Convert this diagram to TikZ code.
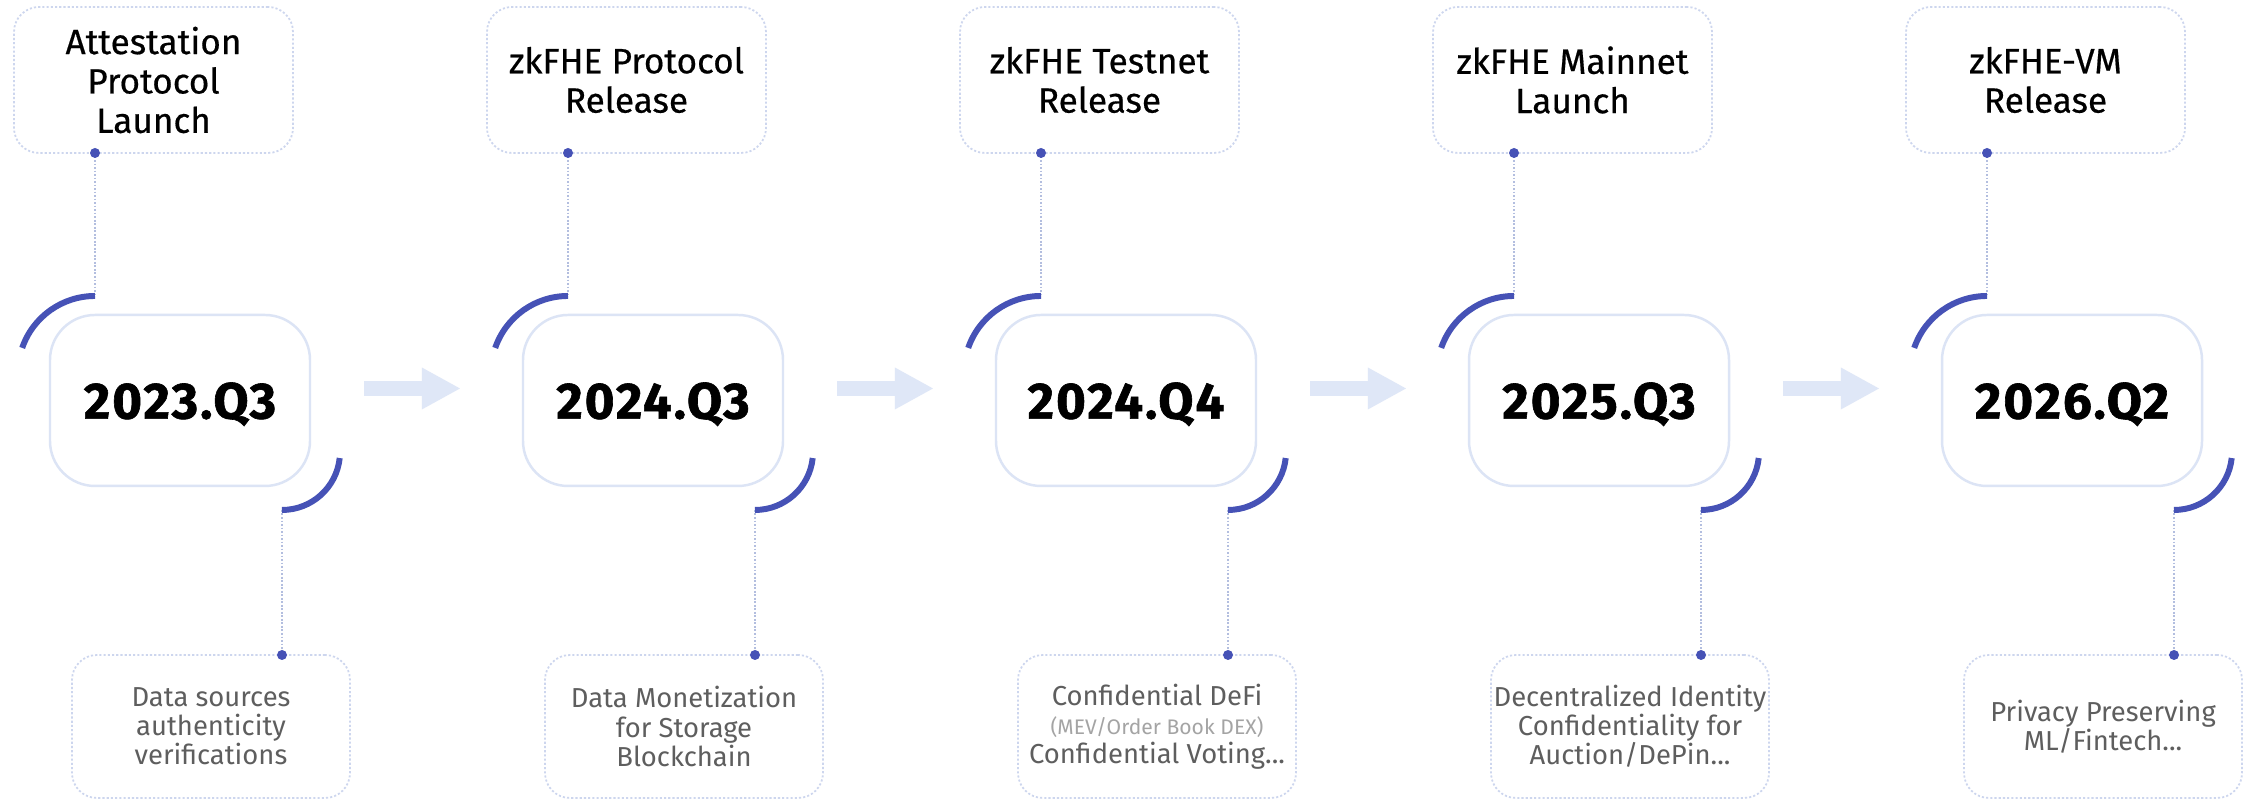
\documentclass[tikz,border=0pt]{standalone}
\usepackage{fontspec}
\setmainfont{Fira Sans}
\newfontfamily\titlefont{Fira Sans}[FakeBold=0.5]
\newfontfamily\yearfont{Fira Sans}[LetterSpace=4,BoldFeatures={FakeBold=1.2}]
\usetikzlibrary{arrows.meta}
\usetikzlibrary{positioning}

\definecolor{boxline}{HTML}{CDD6EE}
\definecolor{qline}{HTML}{DCE4F5}
\definecolor{pinblue}{HTML}{B3BEDF}
\definecolor{hookblue}{HTML}{4652B6}
\definecolor{flowblue}{HTML}{DFE7F7}
\definecolor{notegray}{HTML}{5E5E5E}
\definecolor{mevgray}{HTML}{A4A4A4}

\tikzset{
titlebox/.style={draw=boxline,dash pattern=on 0.6pt off 0.6pt,line width=0.5pt,rounded corners=0.25cm,minimum width=2.79cm,minimum height=1.46cm,inner sep=0pt,align=center,font=\titlefont\fontsize{10}{11.2}\selectfont},
quarterbox/.style={draw=qline,line width=0.7pt,rounded corners=0.45cm,minimum width=2.6cm,minimum height=1.71cm,inner sep=0pt,text depth=0pt,font=\yearfont\bfseries\fontsize{14.5}{16}\selectfont},
notebox/.style={draw=boxline,dash pattern=on 0.6pt off 0.6pt,line width=0.5pt,rounded corners=0.25cm,minimum width=2.78cm,minimum height=1.43cm,inner sep=0pt,align=center,text=notegray,font=\fontsize{7.8}{8.3}\selectfont},
pinline/.style={draw=pinblue,dash pattern=on 0.5pt off 0.5pt,line width=0.5pt},
hook/.style={draw=hookblue,line width=1.7pt},
pin/.style={fill=hookblue},
flow/.style={draw=flowblue,line width=0.15cm,-{Triangle[width=0.39cm,length=0.39cm]}}
}

\begin{document}
\begin{tikzpicture}
\useasboundingbox[fill=white] (0,0) rectangle (22.49,8.01);

% boxes
\node[titlebox] (t1) at (1.535,7.21) {Attestation\\Protocol\\Launch};
\node[titlebox] (t2) at (6.265,7.21) {zkFHE Protocol\\Release};
\node[titlebox] (t3) at (10.995,7.21) {zkFHE Testnet\\Release};
\node[titlebox] (t4) at (15.725,7.21) {zkFHE Mainnet\\Launch};
\node[titlebox] (t5) at (20.455,7.21) {zkFHE-VM\\Release};

\node[quarterbox] (q1) at (1.80,4.005) {2023.Q3};
\node[quarterbox] (q2) at (6.53,4.005) {2024.Q3};
\node[quarterbox] (q3) at (11.26,4.005) {2024.Q4};
\node[quarterbox] (q4) at (15.99,4.005) {2025.Q3};
\node[quarterbox] (q5) at (20.72,4.005) {2026.Q2};

\node[notebox] (n1) at (2.11,0.745) {Data sources\\authenticity\\verifications};
\node[notebox] (n2) at (6.84,0.745) {Data Monetization\\for Storage\\Blockchain};
\node[notebox] (n3) at (11.57,0.745) {Confidential DeFi\\{\fontsize{6}{6}\selectfont\color{mevgray}(MEV/Order Book DEX)}\\Confidential Voting...};
\node[notebox] (n4) at (16.30,0.745) {Decentralized Identity\\Confidentiality for\\Auction/DePin...};
\node[notebox] (n5) at (21.03,0.745) {Privacy Preserving\\ML/Fintech...};

% pins and hooks
\coordinate (t1pin) at (0.95,6.48);
\coordinate (t2pin) at (5.68,6.48);
\coordinate (t3pin) at (10.41,6.48);
\coordinate (t4pin) at (15.14,6.48);
\coordinate (t5pin) at (19.87,6.48);
\coordinate (q1top) at (0.95,5.05);
\coordinate (q2top) at (5.68,5.05);
\coordinate (q3top) at (10.41,5.05);
\coordinate (q4top) at (15.14,5.05);
\coordinate (q5top) at (19.87,5.05);
\coordinate (q1bot) at (2.82,2.91);
\coordinate (q2bot) at (7.55,2.91);
\coordinate (q3bot) at (12.28,2.91);
\coordinate (q4bot) at (17.01,2.91);
\coordinate (q5bot) at (21.74,2.91);
\coordinate (n1pin) at (2.82,1.46);
\coordinate (n2pin) at (7.55,1.46);
\coordinate (n3pin) at (12.28,1.46);
\coordinate (n4pin) at (17.01,1.46);
\coordinate (n5pin) at (21.74,1.46);

\draw[pinline] (t1pin) -- (q1top);
\draw[pinline] (t2pin) -- (q2top);
\draw[pinline] (t3pin) -- (q3top);
\draw[pinline] (t4pin) -- (q4top);
\draw[pinline] (t5pin) -- (q5top);
\draw[pinline] (q1bot) -- (n1pin);
\draw[pinline] (q2bot) -- (n2pin);
\draw[pinline] (q3bot) -- (n3pin);
\draw[pinline] (q4bot) -- (n4pin);
\draw[pinline] (q5bot) -- (n5pin);

\draw[hook] (q1top) arc[start angle=90,end angle=161,radius=0.77];
\draw[hook] (q2top) arc[start angle=90,end angle=161,radius=0.77];
\draw[hook] (q3top) arc[start angle=90,end angle=161,radius=0.77];
\draw[hook] (q4top) arc[start angle=90,end angle=161,radius=0.77];
\draw[hook] (q5top) arc[start angle=90,end angle=161,radius=0.77];
\draw[hook] (q1bot) arc[start angle=-90,end angle=-6,radius=0.58];
\draw[hook] (q2bot) arc[start angle=-90,end angle=-6,radius=0.58];
\draw[hook] (q3bot) arc[start angle=-90,end angle=-6,radius=0.58];
\draw[hook] (q4bot) arc[start angle=-90,end angle=-6,radius=0.58];
\draw[hook] (q5bot) arc[start angle=-90,end angle=-6,radius=0.58];

\fill[pin] (t1pin) circle (0.05);
\fill[pin] (t2pin) circle (0.05);
\fill[pin] (t3pin) circle (0.05);
\fill[pin] (t4pin) circle (0.05);
\fill[pin] (t5pin) circle (0.05);
\fill[pin] (n1pin) circle (0.05);
\fill[pin] (n2pin) circle (0.05);
\fill[pin] (n3pin) circle (0.05);
\fill[pin] (n4pin) circle (0.05);
\fill[pin] (n5pin) circle (0.05);

% arrows between quarters
\draw[flow] ([xshift=5.3mm,yshift=1.2mm]q1.east) -- ([xshift=-6.1mm,yshift=1.2mm]q2.west);
\draw[flow] ([xshift=5.3mm,yshift=1.2mm]q2.east) -- ([xshift=-6.1mm,yshift=1.2mm]q3.west);
\draw[flow] ([xshift=5.3mm,yshift=1.2mm]q3.east) -- ([xshift=-6.1mm,yshift=1.2mm]q4.west);
\draw[flow] ([xshift=5.3mm,yshift=1.2mm]q4.east) -- ([xshift=-6.1mm,yshift=1.2mm]q5.west);

\end{tikzpicture}
\end{document}
